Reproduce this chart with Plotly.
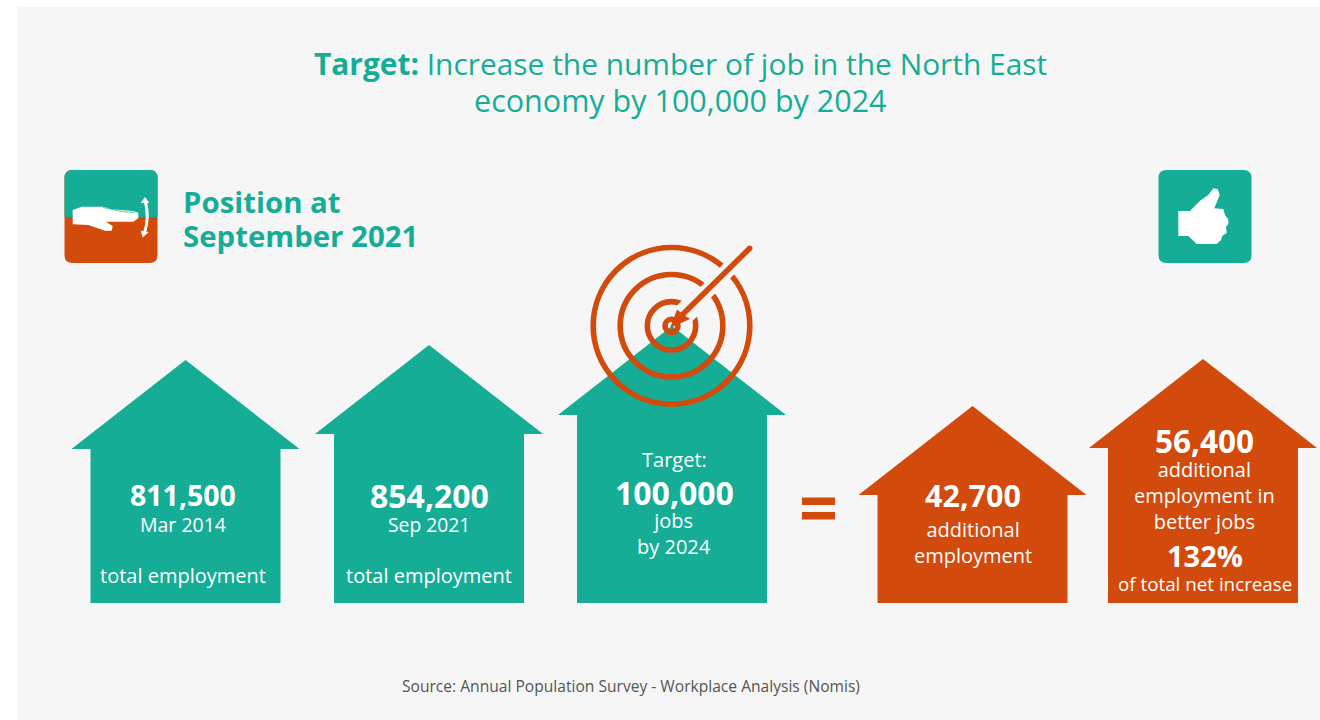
import plotly.graph_objects as go

TEAL = "#16ad96"
RUST = "#d24a0c"
PANEL = "#f6f6f6"
FONT = "Open Sans"

# ---- content ----
title_bold = "Target:"
title_rest = ["Increase the number of job in the North East", "economy by 100,000 by 2024"]
subtitle = ["Position at", "September 2021"]
source = "Source: Annual Population Survey - Workplace Analysis (Nomis)"

house_centres = [185.5, 429, 672, 972.5, 1203]
house_apex = [360, 345, 326, 406, 359]
house_colours = [TEAL, TEAL, TEAL, RUST, RUST]

labels_x = [183, 183, 183, 429, 429, 429, 674, 674, 674, 972.5, 972.5, 1204.5, 1204.5, 1204.5, 1205]
labels_y = [495, 524, 575, 495, 524, 575, 459, 492, 533.5, 495, 542.5, 440, 495.7, 555, 584]
labels_text = ["811,500", "Mar 2014", "total employment",
               "854,200", "Sep 2021", "total employment",
               "Target:", "100,000", "jobs<br>by 2024",
               "42,700", "additional<br>employment",
               "56,400", "additional<br>employment in<br>better jobs", "132%", "of total net increase"]
labels_bold = [1, 0, 0, 1, 0, 0, 0, 1, 0, 1, 0, 1, 0, 1, 0]
labels_size = [28.5, 19.5, 20, 32, 19.3, 20, 20, 32, 20, 30.5, 20, 31.5, 20, 29, 18.8]

hand_x = [72.7, 81.7, 103.3, 111.7, 133.3, 138.3, 138.3, 133.3, 106, 112.7, 111.7, 105, 88.3, 72.7]
hand_y = [210, 206.7, 206.7, 209.3, 211, 212.7, 218.3, 221.7, 221.7, 226, 230.7, 230.7, 225, 224.3]
thumb_x = [1178.3, 1190, 1200, 1208.3, 1213.3, 1217.7, 1219.7, 1214.3, 1223.3, 1225, 1228.3, 1228.3, 1226, 1226.7, 1222.3, 1221, 1216.7, 1196.7, 1188.3, 1178.3]
thumb_y = [211, 211, 200.7, 195, 188.3, 189.3, 195, 208.3, 209, 215, 219.3, 224, 226.7, 232.7, 236, 240, 244, 244, 236, 236]

ring_radii = [78.3, 51.3, 24.2, 6.5]

fig = go.Figure()


def poly(xs, ys, colour):
    fig.add_trace(go.Scatter(x=xs, y=ys, mode="lines", fill="toself", fillcolor=colour,
                             line=dict(width=0, color=colour), hoverinfo="skip", showlegend=False))


def house(cx, apex, colour):
    eave = apex + 89
    hw = 114
    bw = 95
    bottom = 603
    poly([cx, cx + hw, cx + bw, cx + bw, cx - bw, cx - bw, cx - hw, cx],
         [apex, eave, eave, bottom, bottom, eave, eave, apex], colour)


for c, a, col in zip(house_centres, house_apex, house_colours):
    house(c, a, col)

poly(hand_x, hand_y, "#ffffff")
poly(thumb_x, thumb_y, "#ffffff")

shapes = []


def rrect(x0, y0, x1, y1, r, colour, layer="below"):
    p = (f"M{x0+r},{y0} L{x1-r},{y0} Q{x1},{y0} {x1},{y0+r} L{x1},{y1-r} Q{x1},{y1} {x1-r},{y1} "
         f"L{x0+r},{y1} Q{x0},{y1} {x0},{y1-r} L{x0},{y0+r} Q{x0},{y0} {x0+r},{y0} Z")
    shapes.append(dict(type="path", path=p, fillcolor=colour, line=dict(width=0), layer=layer, xref="x", yref="y"))


shapes.append(dict(type="rect", x0=18, x1=1320, y0=7, y1=720, fillcolor=PANEL, line=dict(width=0), layer="below", xref="x", yref="y"))
rrect(64.5, 170, 157.5, 263, 8, RUST)
r = 8
shapes.append(dict(type="path", layer="below", xref="x", yref="y", fillcolor=TEAL, line=dict(width=0),
                   path=f"M64.5,217 L64.5,{170+r} Q64.5,170 {64.5+r},170 L{157.5-r},170 Q157.5,170 157.5,{170+r} L157.5,217 Z"))
rrect(1158.5, 170, 1251.5, 263, 8, TEAL)

# finger split on the hand icon
shapes.append(dict(type="path", layer="above", xref="x", yref="y", line=dict(color=TEAL, width=0.7),
                   path="M103,207.5 L122,211.5 L135,212.5"))
# double arrow on the hand icon
shapes.append(dict(type="path", layer="above", xref="x", yref="y", line=dict(color="#ffffff", width=3),
                   path="M145,200 Q150,218 144,234"))
poly([140.7, 145, 149.3], [203, 197, 203], "#ffffff")
poly([140.7, 142.7, 148.7], [230.7, 237.5, 232], "#ffffff")

# target rings
cx, cy = 671.5, 325.8
for rad in ring_radii:
    shapes.append(dict(type="circle", x0=cx - rad, x1=cx + rad, y0=cy - rad, y1=cy + rad, layer="above",
                       line=dict(color=RUST, width=5.6), xref="x", yref="y"))
# gaps where the arrow passes through the rings
shapes.append(dict(type="line", x0=750, y0=248, x1=693, y1=305, line=dict(color=PANEL, width=15), xref="x", yref="y", layer="above"))
shapes.append(dict(type="line", x0=695, y0=303, x1=683, y1=315, line=dict(color=PANEL, width=22), xref="x", yref="y", layer="above"))
# arrow
shapes.append(dict(type="line", x0=749.5, y0=248.5, x1=678, y1=319, line=dict(color=RUST, width=5.5), xref="x", yref="y", layer="above"))
shapes.append(dict(type="circle", x0=747, x1=752.5, y0=245.5, y1=251, fillcolor=RUST, line=dict(width=0), xref="x", yref="y", layer="above"))
shapes.append(dict(type="path", layer="above", xref="x", yref="y", fillcolor=RUST, line=dict(width=0),
                   path="M670,328 L677,309.5 L684,315 L690,319 Z"))
# equals sign
shapes.append(dict(type="rect", x0=802, x1=835, y0=497.5, y1=505, fillcolor=RUST, line=dict(width=0), xref="x", yref="y", layer="above"))
shapes.append(dict(type="rect", x0=802, x1=835, y0=512, y1=519.5, fillcolor=RUST, line=dict(width=0), xref="x", yref="y", layer="above"))

ann = []


def text(x, y, s, size, colour, anchor="center", bold=False):
    if bold:
        s = f"<b>{s}</b>"
    ann.append(dict(x=x, y=y, text=s, showarrow=False, xref="x", yref="y", xanchor=anchor, yanchor="middle",
                    font=dict(family=FONT, size=size, color=colour)))


text(680, 63.5, f"<b>{title_bold}</b> {title_rest[0]}", 29.9, TEAL)
text(680, 100, title_rest[1], 30.5, TEAL)
text(181, 202, subtitle[0], 29.4, TEAL, "left", True)
text(181, 236, subtitle[1], 29.4, TEAL, "left", True)
text(630.5, 686, source, 15.6, "#555555")

for x, y, s, b, sz in zip(labels_x, labels_y, labels_text, labels_bold, labels_size):
    text(x, y, s, sz, "#ffffff", bold=bool(b))

fig.update_layout(
    width=1320, height=720, margin=dict(l=0, r=0, t=0, b=0), paper_bgcolor="#ffffff", plot_bgcolor="#ffffff",
    xaxis=dict(range=[0, 1320], visible=False, fixedrange=True),
    yaxis=dict(range=[720, 0], visible=False, fixedrange=True),
    shapes=shapes, annotations=ann, showlegend=False,
)
fig.write_html("out.html", config=dict(displayModeBar=False),
               post_script="document.body.style.margin='0';")
